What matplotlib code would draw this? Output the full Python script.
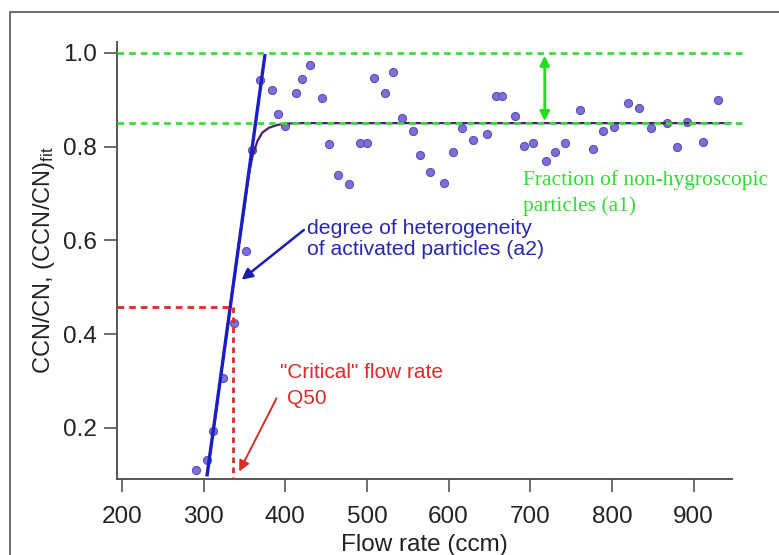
import numpy as np
import matplotlib.pyplot as plt
from matplotlib.patches import Rectangle

plt.rcParams['font.family'] = ['Liberation Sans', 'DejaVu Sans']
plt.rcParams['mathtext.fontset'] = 'custom'
plt.rcParams['mathtext.rm'] = 'Liberation Sans'
plt.rcParams['mathtext.it'] = 'Liberation Sans:italic'

# measured CCN/CN ratios
flow = [291, 303.6, 311.8, 324, 337, 351.4, 359.9, 368.9, 383.2, 391.3, 399.5,
        412.6, 420.7, 430.9, 444.4, 453.3, 464.7, 477.8, 491.3, 500.7, 508.8,
        522.3, 532, 543.5, 557, 565, 577.3, 594.9, 605.5, 617, 630.4, 647.6,
        657.7, 665.4, 681, 692, 703, 719.3, 730.3, 743, 760.9, 776.8, 789.5,
        802, 820, 833.6, 847.4, 867.4, 879.6, 892.3, 911.4, 929.8]
ratio = [0.110, 0.132, 0.194, 0.306, 0.423, 0.578, 0.792, 0.942, 0.921, 0.870,
         0.843, 0.914, 0.945, 0.975, 0.903, 0.806, 0.740, 0.721, 0.807, 0.807,
         0.946, 0.915, 0.958, 0.861, 0.834, 0.781, 0.745, 0.723, 0.789, 0.840,
         0.814, 0.827, 0.907, 0.907, 0.865, 0.802, 0.807, 0.770, 0.789, 0.807,
         0.879, 0.794, 0.834, 0.841, 0.893, 0.883, 0.839, 0.850, 0.799, 0.853,
         0.810, 0.900]

# sigmoid fit
fit_q = [304, 315, 325, 335, 343, 350, 353, 356, 360, 366, 372, 380, 390, 400, 420, 945]
fit_r = [0.10, 0.23, 0.36, 0.49, 0.59, 0.67, 0.71, 0.745, 0.78, 0.812, 0.83, 0.84,
         0.846, 0.849, 0.85, 0.85]

# tangent at Q50
tan_q = [304.4, 375]
tan_r = [0.10, 0.994]

a1 = 0.85
q50 = 336.3
r50 = 0.457
xlim = (194, 947)
ylim = (0.091, 1.023)

W, H = 779, 555
fig = plt.figure(figsize=(W / 100, H / 100), dpi=100)
ax = fig.add_axes([117 / W, 1 - 479 / H, (732 - 117) / W, (479 - 42) / H])

fig.patches.append(Rectangle((10 / W, -0.1), 1.5, 1 - 12 / H + 0.1,
                             transform=fig.transFigure, fill=False,
                             edgecolor='#555555', lw=1.2))

ax.plot(flow, ratio, 'o', ms=5.8, mfc='#7b70d8', mec='#5a4fb8', mew=0.8, zorder=2)
ax.plot(fit_q, fit_r, '-', color='#4a1e70', lw=1.6, zorder=3)
ax.plot(tan_q, tan_r, '-', color='#1c1cc8', lw=2.4, zorder=4)

green = '#3ddc3d'
ax.plot([xlim[0], 963], [1.0, 1.0], color=green, lw=2, ls=(0, (2.4, 1.8)), zorder=5, clip_on=False)
ax.plot([xlim[0], 963], [a1, a1], color=green, lw=2, ls=(0, (2.4, 1.8)), zorder=5, clip_on=False)

red = '#dd2a2a'
ax.plot([xlim[0], q50], [r50, r50], color=red, lw=2, ls=(0, (2.4, 1.8)), zorder=5)
ax.plot([q50, q50], [r50, ylim[0]], color=red, lw=2, ls=(0, (2.0, 1.6)), zorder=5)

# annotations
ax.annotate('', xy=(717.7, 0.994), xytext=(717.7, a1 + 0.004),
            arrowprops=dict(arrowstyle='<|-|>', color='#22dd22', lw=2,
                            mutation_scale=14, shrinkA=0, shrinkB=0))
ax.annotate('', xy=(346.5, 0.516), xytext=(422.7, 0.622),
            arrowprops=dict(arrowstyle='-|>', color='#1c1cb0', lw=1.8,
                            mutation_scale=16, shrinkA=0, shrinkB=0))
ax.annotate('', xy=(343.6, 0.107), xytext=(389.3, 0.263),
            arrowprops=dict(arrowstyle='-|>', color='#e02a2a', lw=1.4,
                            mutation_scale=16, shrinkA=0, shrinkB=0))

ax.text(307 / W, 1 - 229 / H, 'degree of heterogeneity', transform=fig.transFigure,
        color='#2828b0', fontsize=15.3, va='center', ha='left')
ax.text(307 / W, 1 - 249 / H, 'of activated particles (a2)', transform=fig.transFigure,
        color='#2828b0', fontsize=15.3, va='center', ha='left')
ax.text(280 / W, 1 - 373 / H, '"Critical" flow rate', transform=fig.transFigure,
        color=red, fontsize=15, va='center', ha='left')
ax.text(287 / W, 1 - 399 / H, 'Q50', transform=fig.transFigure,
        color=red, fontsize=15, va='center', ha='left')
ax.text(523 / W, 1 - 180 / H, 'Fraction of non-hygroscopic', transform=fig.transFigure,
        color='#33dd33', fontsize=15.5, va='center', ha='left', family='Liberation Serif')
ax.text(523 / W, 1 - 206 / H, 'particles (a1)', transform=fig.transFigure,
        color='#33dd33', fontsize=15.5, va='center', ha='left', family='Liberation Serif')

ax.set_xlim(*xlim)
ax.set_ylim(*ylim)
ax.set_xticks([200, 300, 400, 500, 600, 700, 800, 900])
ax.set_yticks([0.2, 0.4, 0.6, 0.8, 1.0])
ax.set_yticklabels(['0.2', '0.4', '0.6', '0.8', '1.0'])
for s in ['top', 'right']:
    ax.spines[s].set_visible(False)
for s in ['left', 'bottom']:
    ax.spines[s].set_color('#555555')
    ax.spines[s].set_linewidth(1.4)
ax.tick_params(direction='out', length=9.5, width=1.2, color='#555555',
               labelsize=17.5, labelcolor='#222222')
ax.tick_params(axis='x', pad=10)
ax.tick_params(axis='y', pad=5)
ax.set_xlabel('Flow rate (ccm)', fontsize=17.5, color='#222222', labelpad=4)
ax.set_ylabel(r'CCN/CN, (CCN/CN)$_{\mathrm{fit}}$', fontsize=17, color='#222222', labelpad=4.5)

fig.savefig('out.png', dpi=100)
plt.close()
